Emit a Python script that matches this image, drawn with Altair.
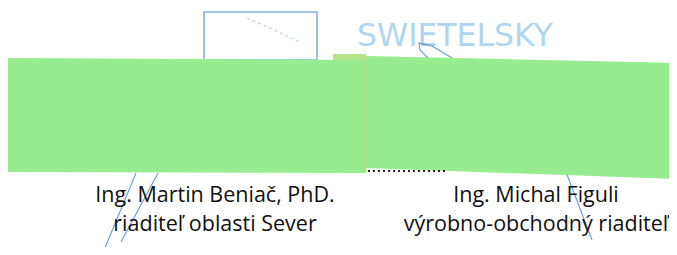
import altair as alt
import pandas as pd

W, H, M = 677, 255, 8

# ---- content -------------------------------------------------------------
names_left = ["Ing. Martin Beniač, PhD.", "riaditeľ oblasti Sever"]
names_right = ["Ing. Michal Figuli", "výrobno-obchodný riaditeľ"]
stamp_word = ["SWIETELSKY"]

# ---- layout of the scanned page (pixel coordinates of the image) ---------
left_note_x = [8, 366]
left_note_top = [58, 60]
left_note_bottom = [172, 173]
right_note_x = [366, 677]
right_note_top = [56, 63]
right_note_bottom = [168, 179]
tab_box = dict(x=333, x2=366, y=54, y2=60)
stamp_box = dict(x=204, x2=317, y=12, y2=60)
stamp_text_pos = dict(x=357, y=46)
text_left_pos = dict(x=215, y=[202, 231])
text_right_pos = dict(x=536, y=[202, 231])
dots_pos = dict(x=368, x2=446, y=171)
seam_pos = dict(x=366, y=56, y2=172)

pen_strokes = {
    "s1": ([136, 102], [173, 255]),
    "s2": ([158, 121], [173, 242]),
    "s3": ([566, 592], [172, 240]),
    "s4": ([452, 432, 419, 420, 428], [58, 46, 43, 50, 58]),
}
stamp_marks = {
    "d1": ([247, 270, 300], [18, 28, 42]),
}

PW, PH = W - 2 * M, H - 2 * M
xs = alt.Scale(domain=[M, M + PW], nice=False, zero=False)
ys = alt.Scale(domain=[M, M + PH], nice=False, zero=False, reverse=True)


def X(f="x"):
    return alt.X(f, type="quantitative", scale=xs, axis=None)


def Y(f="y"):
    return alt.Y(f, type="quantitative", scale=ys, axis=None)


GREEN = "#97ec8f"
BLUE = "#6db4e6"
PEN = "#3f7fcf"


def strokes(d):
    rows = []
    for k, (px, py) in d.items():
        for i, (a, b) in enumerate(zip(px, py)):
            rows.append({"g": k, "i": i, "x": a, "y": b})
    return pd.DataFrame(rows)


# stamp
stamp = alt.Chart(pd.DataFrame([stamp_box])).mark_rect(
    fill=None, stroke="#5b9fe0", strokeWidth=1.6, opacity=0.8
).encode(x=X("x"), x2="x2", y=Y("y"), y2="y2")

stamp_inner = alt.Chart(strokes(stamp_marks)).mark_line(
    color="#5b9fe0", strokeWidth=1.2, opacity=0.45, strokeDash=[3, 3]
).encode(x=X(), y=Y(), detail="g:N", order="i:Q")

stamp_txt = alt.Chart(
    pd.DataFrame({"t": stamp_word, "x": [stamp_text_pos["x"]], "y": [stamp_text_pos["y"]]})
).mark_text(
    align="left", baseline="alphabetic", font="DejaVu Sans", fontSize=31.5,
    color=BLUE, opacity=0.55
).encode(x=X(), y=Y(), text="t")

# pen strokes
pen = alt.Chart(strokes(pen_strokes)).mark_line(
    color=PEN, strokeWidth=1.1, opacity=0.8
).encode(x=X(), y=Y(), detail="g:N", order="i:Q")

# green sticky notes
left_df = pd.DataFrame({"x": left_note_x, "y": left_note_top, "y2": left_note_bottom})
right_df = pd.DataFrame({"x": right_note_x, "y": right_note_top, "y2": right_note_bottom})
left_note = alt.Chart(left_df).mark_area(color=GREEN, opacity=1, clip=True).encode(
    x=X(), y=Y(), y2="y2")
right_note = alt.Chart(right_df).mark_area(color=GREEN, opacity=1, clip=True).encode(
    x=X(), y=Y(), y2="y2")
tab = alt.Chart(pd.DataFrame([tab_box])).mark_rect(color="#b4e48c").encode(
    x=X("x"), x2="x2", y=Y("y"), y2="y2")
seam = alt.Chart(pd.DataFrame([seam_pos])).mark_rule(
    color="#c9d87a", strokeWidth=1).encode(x=X("x"), y=Y("y"), y2="y2")

dots = alt.Chart(pd.DataFrame([dots_pos])).mark_rule(
    color="#222222", strokeWidth=2, strokeDash=[2, 3]
).encode(x=X("x"), x2="x2", y=Y("y"))


# captions
def caption(lines, pos):
    df = pd.DataFrame({"t": lines, "x": [pos["x"]] * len(lines), "y": pos["y"]})
    return alt.Chart(df).mark_text(
        align="center", baseline="alphabetic", font="Open Sans", fontSize=21.5,
        color="#111111"
    ).encode(x=X(), y=Y(), text="t")


chart = alt.layer(
    stamp, stamp_inner, stamp_txt, pen, left_note, right_note, tab, seam, dots,
    caption(names_left, text_left_pos), caption(names_right, text_right_pos)
).properties(
    width=PW, height=PH, autosize=alt.AutoSizeParams(type="none"), padding=0,
    background="white"
).configure_view(stroke=None)

chart.save("out.html", embed_options={"renderer": "svg", "actions": False})
